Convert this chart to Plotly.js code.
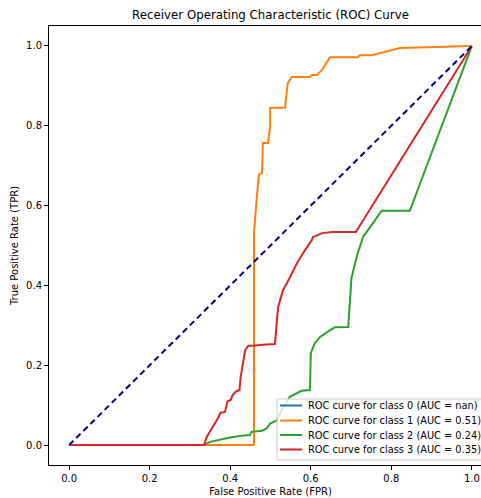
<!DOCTYPE html>
<html>
<head>
<meta charset="utf-8">
<script src="https://cdn.plot.ly/plotly-3.0.1.min.js"></script>
<style>
html,body{margin:0;padding:0;overflow:hidden;background:#fff;}
#chart{width:495px;height:498px;}
</style>
</head>
<body>
<div id="chart"></div>
<script>
// Class labels and legend text
const classNames = ["ROC curve for class 0 (AUC = nan)", "ROC curve for class 1 (AUC = 0.51)", "ROC curve for class 2 (AUC = 0.24)", "ROC curve for class 3 (AUC = 0.35)"];

// Class 0: no positives -> TPR undefined (nan), nothing drawn
const fpr0 = [0, 1];
const tpr0 = [null, null];

// Class 1
const fpr1 = [0, 0.457, 0.459, 0.459, 0.459, 0.464, 0.471, 0.479, 0.481, 0.494, 0.499, 0.499, 0.536, 0.541, 0.543, 0.553, 0.598, 0.603, 0.615, 0.628, 0.648, 0.717, 0.722, 0.752, 0.789, 0.814, 0.821, 1];
const tpr1 = [0, 0, 0.003, 0.414, 0.531, 0.596, 0.677, 0.682, 0.757, 0.757, 0.797, 0.845, 0.845, 0.890, 0.907, 0.922, 0.922, 0.927, 0.927, 0.940, 0.972, 0.972, 0.977, 0.977, 0.987, 0.992, 0.995, 1];

// Class 2
const fpr2 = [0, 0.335, 0.350, 0.375, 0.400, 0.424, 0.449, 0.453, 0.479, 0.491, 0.499, 0.515, 0.531, 0.548, 0.577, 0.598, 0.600, 0.610, 0.623, 0.648, 0.660, 0.693, 0.696, 0.701, 0.714, 0.730, 0.751, 0.776, 0.846, 1];
const tpr2 = [0, 0, 0.008, 0.014, 0.019, 0.023, 0.025, 0.033, 0.036, 0.042, 0.054, 0.061, 0.093, 0.121, 0.136, 0.138, 0.230, 0.255, 0.271, 0.288, 0.295, 0.296, 0.347, 0.418, 0.472, 0.522, 0.551, 0.587, 0.587, 1];

// Class 3
const fpr3 = [0, 0.335, 0.342, 0.358, 0.367, 0.376, 0.387, 0.393, 0.401, 0.406, 0.414, 0.423, 0.426, 0.431, 0.437, 0.445, 0.457, 0.481, 0.511, 0.516, 0.519, 0.531, 0.541, 0.566, 0.581, 0.603, 0.605, 0.628, 0.653, 0.712, 1];
const tpr3 = [0, 0, 0.021, 0.046, 0.063, 0.081, 0.083, 0.109, 0.113, 0.125, 0.134, 0.138, 0.171, 0.201, 0.238, 0.249, 0.249, 0.251, 0.253, 0.313, 0.346, 0.388, 0.406, 0.456, 0.481, 0.514, 0.521, 0.531, 0.534, 0.534, 1];

// Chance diagonal
const diagX = [0, 1];
const diagY = [0, 1];

const colors = ["#1f77b4", "#ff7f0e", "#2ca02c", "#d62728"];
const fprs = [fpr0, fpr1, fpr2, fpr3];
const tprs = [tpr0, tpr1, tpr2, tpr3];

const font = "DejaVu Sans, sans-serif";
const traces = [];
for (let i = 0; i < 4; i++) {
  traces.push({
    x: fprs[i], y: tprs[i], type: "scatter", mode: "lines",
    name: classNames[i],
    line: {color: colors[i], width: 2},
    connectgaps: false, showlegend: false
  });
}
traces.push({
  x: diagX, y: diagY, type: "scatter", mode: "lines",
  line: {color: "#000080", width: 2, dash: "6px,4px"},
  showlegend: false
});

// Plot-area geometry (pixels) used to place a matplotlib-style legend
const W = 495, H = 498, mL = 49, mR = 3, mT = 26, mB = 33;
const pw = W - mL - mR, ph = H - mT - mB;
const px = p => (p - mL) / pw;            // image x pixel -> paper x
const py = p => (H - mB - p) / ph;        // image y pixel -> paper y

const shapes = [{
  type: "rect", xref: "paper", yref: "paper",
  x0: px(277), x1: px(488), y0: py(460), y1: py(399),
  fillcolor: "rgba(255,255,255,0.8)", line: {color: "#cccccc", width: 1}, layer: "above"
}];
const annotations = [];
const rowY = [405.5, 420.5, 435, 449.5];
for (let i = 0; i < 4; i++) {
  shapes.push({type: "line", xref: "paper", yref: "paper",
    x0: px(280), x1: px(302), y0: py(rowY[i]), y1: py(rowY[i]),
    line: {color: colors[i], width: 2}, layer: "above"});
  annotations.push({xref: "paper", yref: "paper", x: px(306), y: py(rowY[i]),
    xanchor: "left", yanchor: "middle", showarrow: false, text: classNames[i],
    font: {family: font, size: 9.8, color: "#000"}});
}

const axisCommon = {
  range: [-0.05, 1.05],
  showgrid: false, zeroline: false,
  showline: true, mirror: true, linecolor: "#000", linewidth: 1,
  ticks: "outside", ticklen: 4, tickcolor: "#000", tickwidth: 1,
  tickvals: [0, 0.2, 0.4, 0.6, 0.8, 1.0],
  tickformat: ".1f",
  tickfont: {family: font, size: 10, color: "#000"}
};
const layout = {
  width: W, height: H,
  margin: {l: mL, r: mR, t: mT, b: mB},
  paper_bgcolor: "#fff", plot_bgcolor: "#fff",
  font: {family: font, size: 10, color: "#000"},
  title: {text: "Receiver Operating Characteristic (ROC) Curve", font: {family: font, size: 11.8, color: "#000"},
          x: 0.5, xref: "paper", y: 1, yref: "paper", yanchor: "bottom", pad: {b: 7}},
  xaxis: Object.assign({}, axisCommon, {title: {text: "False Positive Rate (FPR)", font: {family: font, size: 10, color: "#000"}, standoff: 4}}),
  yaxis: Object.assign({}, axisCommon, {title: {text: "True Positive Rate (TPR)", font: {family: font, size: 10, color: "#000"}, standoff: 5}}),
  showlegend: false,
  shapes: shapes,
  annotations: annotations
};
Plotly.newPlot("chart", traces, layout, {displayModeBar: false, staticPlot: true});
</script>
</body>
</html>
